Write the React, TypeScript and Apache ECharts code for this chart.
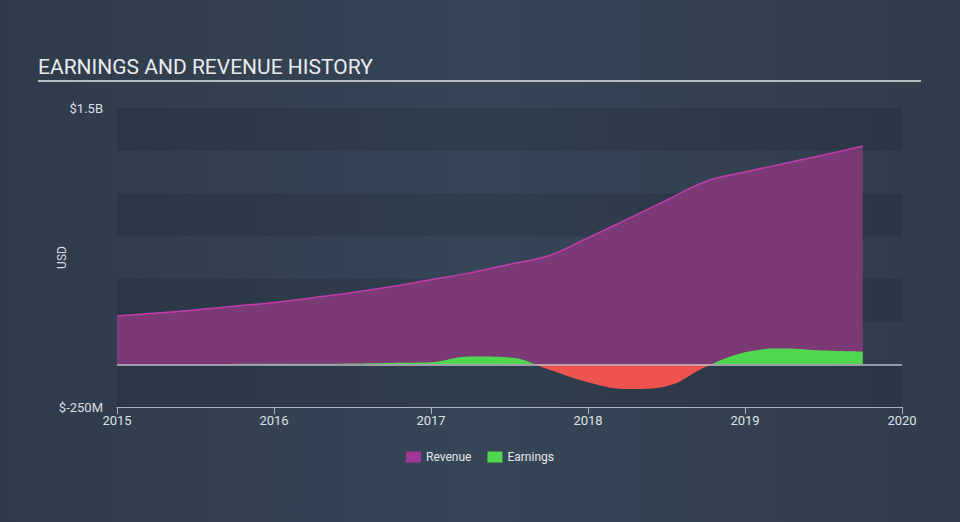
import React, { useEffect, useRef } from "react";
import * as echarts from "echarts";

const quarters = [
  2015.0, 2015.25, 2015.5, 2015.75, 2016.0, 2016.25, 2016.5, 2016.75, 2017.0, 2017.25,
  2017.5, 2017.75, 2018.0, 2018.25, 2018.5, 2018.75, 2019.0, 2019.25, 2019.5, 2019.75,
];
// values in billions USD
const revenue = [
  0.283, 0.3, 0.318, 0.34, 0.362, 0.39, 0.42, 0.455, 0.495, 0.535,
  0.585, 0.635, 0.74, 0.85, 0.96, 1.07, 1.125, 1.175, 1.225, 1.277,
];
const earnings = [
  0.002, 0.002, 0.002, 0.002, 0.003, 0.003, 0.005, 0.008, 0.012, 0.045,
  0.04, -0.03, -0.105, -0.145, -0.128, -0.015, 0.07, 0.092, 0.08, 0.074,
];
const yearTicks = [2015, 2016, 2017, 2018, 2019, 2020];
const yMin = -0.25;
const yMax = 1.5;
const yLabels: Record<string, string> = { "-0.25": "$-250M", "1.5": "$1.5B" };

export default function App() {
  const ref = useRef<HTMLDivElement>(null);
  useEffect(() => {
    document.body.style.margin = "0";
    if (!ref.current) return;
    const chart = echarts.init(ref.current, null, { renderer: "svg" });
    const revData = quarters.map((q, i) => [q, revenue[i]]);
    const earnData = quarters.map((q, i) => [q, earnings[i]]);
    const eMax = Math.max(0, ...earnings);
    const eMin = Math.min(0, ...earnings);
    const zeroOff = eMax / (eMax - eMin);
    const green = "#4fd84f";
    const red = "#ee5350";
    const earnFill = {
      type: "linear",
      x: 0, y: 0, x2: 0, y2: 1,
      colorStops: [
        { offset: 0, color: green },
        { offset: zeroOff, color: green },
        { offset: zeroOff, color: red },
        { offset: 1, color: red },
      ],
    };
    chart.setOption({
      animation: false,
      backgroundColor: "transparent",
      textStyle: { fontFamily: "Roboto" },
      graphic: [
        {
          type: "text",
          left: 38,
          top: 56,
          style: {
            text: "EARNINGS AND REVENUE HISTORY",
            fill: "#e9ecef",
            font: "21px Roboto",
          },
        },
        {
          type: "rect",
          shape: { x: 38, y: 80, width: 883, height: 2 },
          style: { fill: "#b4bcc4" },
        },
      ],
      legend: {
        top: 446,
        left: "center",
        itemWidth: 15,
        itemHeight: 11,
        itemGap: 16,
        icon: "rect",
        textStyle: { color: "#e2e6ea", fontSize: 12, fontFamily: "Roboto" },
        data: [
          { name: "Revenue", itemStyle: { color: "#a3379a" } },
          { name: "Earnings", itemStyle: { color: green } },
        ],
      },
      grid: { left: 117, right: 58, top: 108, bottom: 115 },
      xAxis: {
        type: "value",
        min: 2015,
        max: 2020,
        interval: 1,
        axisLine: { show: true, onZero: false, lineStyle: { color: "#a9b4bf", width: 1 } },
        axisTick: { show: true, length: 7, lineStyle: { color: "#a9b4bf" } },
        axisLabel: {
          color: "#dde2e7",
          fontSize: 13,
          margin: 7,
          formatter: (v: number) => (yearTicks.includes(v) ? String(v) : ""),
        },
        splitLine: { show: false },
      },
      yAxis: {
        type: "value",
        min: yMin,
        max: yMax,
        interval: 0.25,
        name: "USD",
        nameLocation: "middle",
        nameGap: 49,
        nameRotate: 90,
        nameMoveOverlap: false,
        nameTextStyle: { color: "#d8dde2", fontSize: 12 },
        axisLine: { show: false },
        axisTick: { show: false },
        axisLabel: {
          color: "#d8dde2",
          fontSize: 13,
          margin: 14,
          formatter: (v: number) => yLabels[String(v)] ?? "",
        },
        splitLine: { show: false },
        splitArea: {
          show: true,
          areaStyle: { color: ["rgba(20,30,40,0.2)", "rgba(0,0,0,0)"] },
        },
      },
      series: [
        {
          name: "Revenue",
          type: "line",
          smooth: 0.4,
          symbol: "none",
          data: revData,
          itemStyle: { color: "#a3379a" },
          lineStyle: { color: "#c23cad", width: 1.5 },
          areaStyle: { color: "#7b3a76", opacity: 1 },
          z: 2,
          markLine: {
            silent: true,
            symbol: "none",
            label: { show: false },
            lineStyle: { color: "#b8bec4", type: "solid", width: 1.5 },
            data: [{ yAxis: 0 }],
          },
        },
        {
          name: "Earnings",
          type: "line",
          smooth: 0.4,
          symbol: "none",
          data: earnData,
          itemStyle: { color: green },
          lineStyle: { width: 0 },
          areaStyle: { color: earnFill, opacity: 1, origin: 0 },
          z: 3,
        },
      ],
    });
    return () => chart.dispose();
  }, []);
  return (
    <div
      ref={ref}
      style={{
        width: 960,
        height: 522,
        background: "linear-gradient(90deg, #2f3b4a 0%, #364657 50%, #303c4a 100%)",
      }}
    />
  );
}
